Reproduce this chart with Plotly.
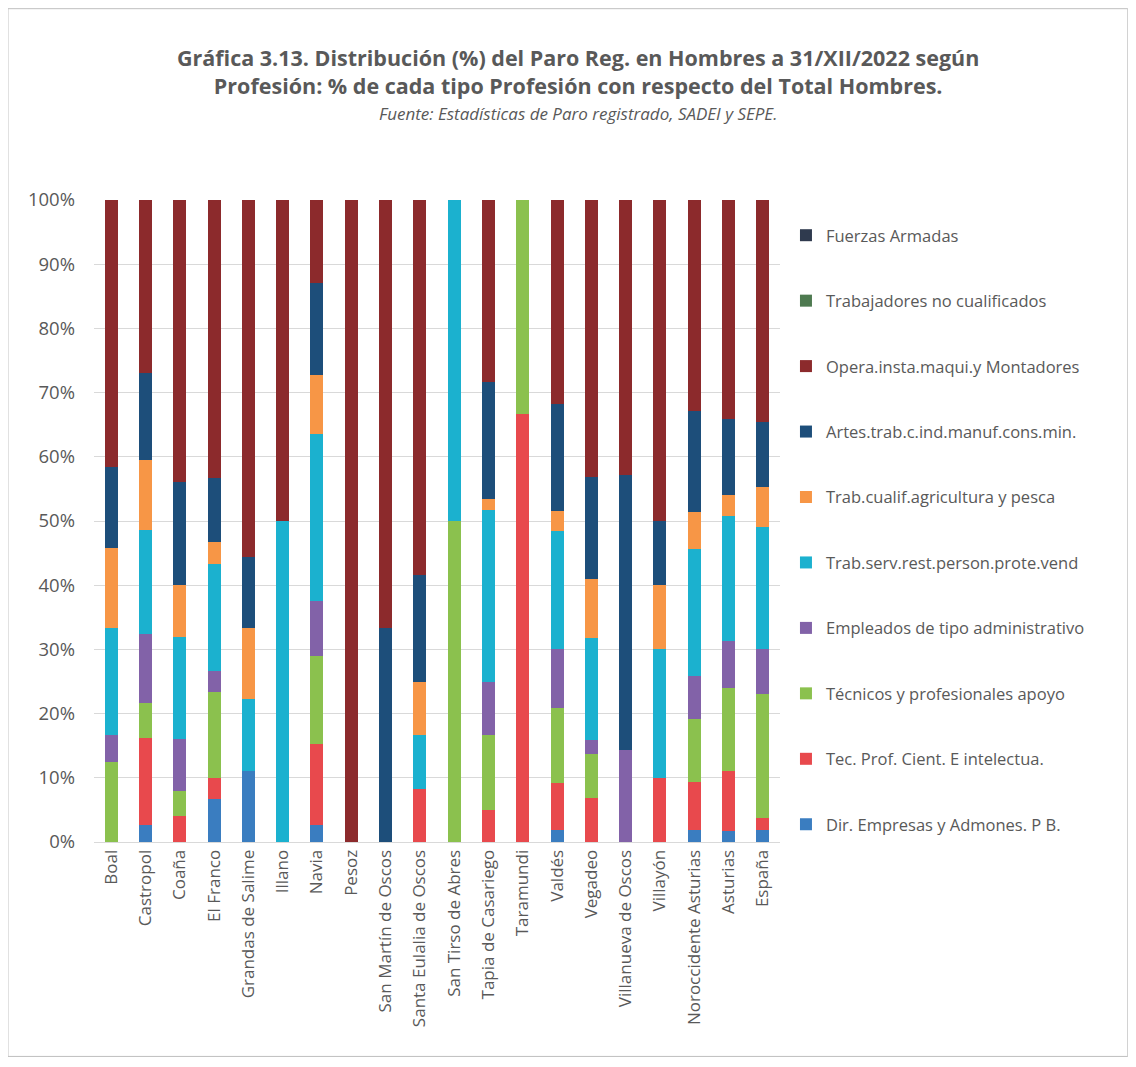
import plotly.graph_objects as go


# ==========================================================
# DATA (% of each profession over total men, 31/XII/2022)
# ==========================================================

municipios = [
    "Boal", "Castropol", "Coaña", "El Franco", "Grandas de Salime",
    "Illano", "Navia", "Pesoz", "San Martín de Oscos",
    "Santa Eulalia de Oscos", "San Tirso de Abres", "Tapia de Casariego",
    "Taramundi", "Valdés", "Vegadeo", "Villanueva de Oscos", "Villayón",
    "Noroccidente Asturias", "Asturias", "España",
]

dir_empresas = [0, 2.7, 0, 6.67, 11.1, 0, 2.7, 0, 0, 0, 0, 0, 0, 1.9, 0, 0, 0, 1.9, 1.7, 1.9]
tec_cient = [0, 13.5, 4, 3.33, 0, 0, 12.5, 0, 0, 8.33, 0, 5, 66.7, 7.3, 6.82, 0, 10, 7.5, 9.3, 1.8]
tecnicos_apoyo = [12.5, 5.4, 4, 13.33, 0, 0, 13.8, 0, 0, 0, 50, 11.7, 33.3, 11.7, 6.82, 0, 0, 9.7, 13.0, 19.3]
empleados_admin = [4.17, 10.8, 8, 3.33, 0, 0, 8.5, 0, 0, 0, 0, 8.3, 0, 9.1, 2.27, 14.3, 0, 6.7, 7.3, 7.0]
trab_serv = [16.67, 16.2, 16, 16.67, 11.1, 50, 26.1, 0, 0, 8.33, 50, 26.7, 0, 18.5, 15.9, 0, 20, 19.8, 19.5, 19.0]
trab_agri = [12.5, 10.9, 8, 3.33, 11.1, 0, 9.1, 0, 0, 8.33, 0, 1.7, 0, 3.1, 9.09, 0, 10, 5.8, 3.2, 6.3]
artesanos = [12.5, 13.5, 16, 10, 11.1, 0, 14.3, 0, 33.3, 16.67, 0, 18.3, 0, 16.7, 15.9, 42.9, 10, 15.8, 11.9, 10.1]
operadores = [41.66, 27.0, 44, 43.34, 55.6, 50, 13.0, 100, 66.7, 58.34, 0, 28.3, 0, 31.7, 43.2, 42.8, 50, 32.8, 34.1, 34.6]
no_cualificados = [0] * 20
fuerzas_armadas = [0] * 20

series = [
    ("Dir. Empresas y Admones. P B.", dir_empresas, "#3A7DC0"),
    ("Tec. Prof. Cient. E intelectua.", tec_cient, "#E8494D"),
    ("Técnicos y profesionales apoyo", tecnicos_apoyo, "#8BC14E"),
    ("Empleados de tipo administrativo", empleados_admin, "#8262A8"),
    ("Trab.serv.rest.person.prote.vend", trab_serv, "#1BB1CF"),
    ("Trab.cualif.agricultura y pesca", trab_agri, "#F79646"),
    ("Artes.trab.c.ind.manuf.cons.min.", artesanos, "#1D4E7A"),
    ("Opera.insta.maqui.y Montadores", operadores, "#8C2A2C"),
    ("Trabajadores no cualificados", no_cualificados, "#4E7A50"),
    ("Fuerzas Armadas", fuerzas_armadas, "#2F3A4E"),
]

GREY = "#595959"
GRID = "#D9D9D9"
FONT = "Open Sans, sans-serif"

fig = go.Figure()

for i, (name, values, color) in enumerate(series):
    fig.add_trace(
        go.Bar(
            name=name,
            x=municipios,
            y=[v / 100 for v in values],
            marker=dict(color=color, line=dict(width=0)),
            legendgroup=name,
            legendrank=100 - i,
        )
    )

fig.update_layout(
    width=1120,
    height=1051,
    barmode="stack",
    bargap=0.62,
    paper_bgcolor="white",
    plot_bgcolor="white",
    font=dict(family=FONT, color=GREY, size=14),
    margin=dict(l=86, r=348, t=192, b=217),
    legend=dict(
        x=1.0087,
        xanchor="left",
        y=0.972,
        yanchor="top",
        traceorder="grouped",
        tracegroupgap=41,
        font=dict(size=16.5, color=GREY),
        itemwidth=30,
        bgcolor="rgba(0,0,0,0)",
    ),
    annotations=[
        dict(
            text=(
                "<b>Gráfica 3.13. Distribución (%) del Paro Reg. en Hombres a 31/XII/2022 según</b>"
                "<br><b>Profesión: % de cada tipo Profesión con respecto del Total Hombres.</b>"
            ),
            xref="paper", yref="paper",
            x=0.7055, y=1.1994,
            xanchor="center", yanchor="middle",
            showarrow=False,
            font=dict(family=FONT, size=21.5, color=GREY),
        ),
        dict(
            text="<i>Fuente: Estadísticas de Paro registrado, SADEI y SEPE.</i>",
            xref="paper", yref="paper",
            x=0.7055, y=1.1355,
            xanchor="center", yanchor="middle",
            showarrow=False,
            font=dict(family=FONT, size=17, color=GREY),
        ),
    ],
    shapes=[
        dict(
            type="rect", xref="paper", yref="paper",
            x0=-0.1254, x1=1.507, y0=-0.334, y1=1.298,
            line=dict(color="#BFBFBF", width=1),
        )
    ],
)

fig.update_xaxes(
    tickangle=-90,
    showgrid=False,
    showline=True,
    linecolor=GRID,
    ticks="",
    tickfont=dict(size=17, color=GREY),
)

fig.update_yaxes(
    range=[0, 1],
    dtick=0.1,
    tickformat=".0%",
    gridcolor=GRID,
    zeroline=False,
    showline=False,
    ticks="",
    tickfont=dict(size=18.5, color=GREY),
    ticklabelstandoff=18,
)

fig.write_html("out.html")
